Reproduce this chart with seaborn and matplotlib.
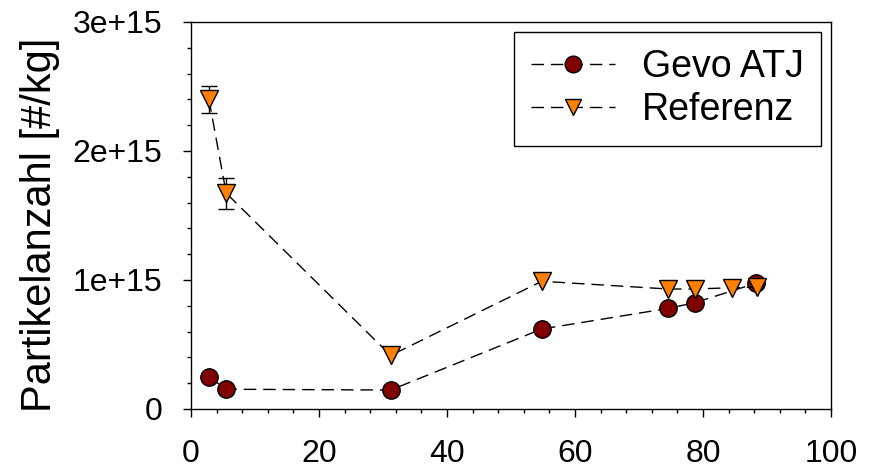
import numpy as np
import pandas as pd
import matplotlib
matplotlib.use("Agg")
import matplotlib.pyplot as plt
from matplotlib.ticker import MultipleLocator
import seaborn as sns

# Data
gevo_x = [2.8, 5.5, 31.2, 54.8, 74.6, 78.7, 88.3]
gevo_y = [0.25e15, 0.153e15, 0.147e15, 0.62e15, 0.78e15, 0.824e15, 0.975e15]

ref_x = [2.8, 5.5, 31.2, 54.8, 74.6, 78.7, 84.5, 88.4]
ref_y = [2.40e15, 1.673e15, 0.415e15, 0.99e15, 0.93e15, 0.93e15, 0.94e15, 0.945e15]
ref_err = [0.105e15, 0.12e15, 0, 0, 0, 0, 0, 0]

labels = ["Gevo ATJ", "Referenz"]
y_ticks = [0, 1e15, 2e15, 3e15]
y_ticklabels = ["0", "1e+15", "2e+15", "3e+15"]
x_ticks = [0, 20, 40, 60, 80, 100]

sns.set_style("ticks")
plt.rcParams['font.family'] = ['Liberation Sans', 'DejaVu Sans']
plt.rcParams['text.color'] = 'black'
plt.rcParams['axes.labelcolor'] = 'black'

fig = plt.figure(figsize=(8.77, 4.68), dpi=100)
ax = fig.add_axes([0.2178, 0.1261, 0.9476 - 0.2178, 0.953 - 0.1261])

dash = (9, 5)
df_g = pd.DataFrame({"x": gevo_x, "y": gevo_y})
df_r = pd.DataFrame({"x": ref_x, "y": ref_y, "e": ref_err})

m = df_r["e"] > 0
ax.errorbar(df_r["x"][m], df_r["y"][m], yerr=df_r["e"][m], fmt="none",
            ecolor="black", elinewidth=1, capsize=5.8, capthick=1, zorder=2)

sns.lineplot(data=df_g, x="x", y="y", ax=ax, color="black", lw=1,
             dashes=False, linestyle=(0, dash), marker="o", markersize=12.5,
             markerfacecolor="#800000", markeredgecolor="black",
             markeredgewidth=1, label=labels[0], estimator=None, zorder=3)
sns.lineplot(data=df_r, x="x", y="y", ax=ax, color="black", lw=1,
             dashes=False, linestyle=(0, dash), marker="v", markersize=13.5,
             markerfacecolor="#FF8000", markeredgecolor="black",
             markeredgewidth=1, label=labels[1], estimator=None, zorder=3)

ax.set_xlim(0, 100)
ax.set_ylim(0, 3e15)
ax.set_xticks(x_ticks)
ax.set_xticklabels([str(v) for v in x_ticks])
ax.set_yticks(y_ticks)
ax.set_yticklabels(y_ticklabels)
ax.xaxis.set_minor_locator(MultipleLocator(4))
ax.yaxis.set_minor_locator(MultipleLocator(0.2e15))
ax.tick_params(which="major", direction="out", length=5.5, width=1, labelsize=23,
               color="black", labelcolor="black")
ax.tick_params(axis="x", which="major", pad=16)
ax.tick_params(axis="y", which="major", pad=15)
ax.tick_params(which="minor", direction="out", length=3, width=1, color="black")
ax.set_xlabel("")
ax.set_ylabel("Partikelanzahl [#/kg]", fontsize=30, color="black")
ax.yaxis.set_label_coords(-0.205, 0.475)
for s in ax.spines.values():
    s.set_visible(True)
    s.set_color("black")
    s.set_linewidth(1)

leg = ax.legend(loc="upper right", fontsize=27, frameon=True, fancybox=False,
                edgecolor="black", framealpha=1, handlelength=2.24,
                borderpad=0.46, labelspacing=0.2, handletextpad=0.73,
                borderaxespad=0.26, labelcolor="black")
leg.get_frame().set_linewidth(1)
for h in leg.legend_handles:
    h.set_markersize(12)

fig.savefig("out.png", dpi=100)
